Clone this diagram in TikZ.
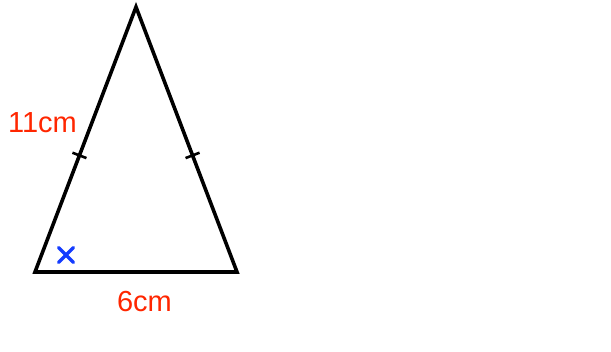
\documentclass[tikz,border=0pt]{standalone}
\usepackage{fontspec}
\setmainfont{Liberation Sans}
\usetikzlibrary{calc}
\definecolor{lblred}{RGB}{255,38,0}
\definecolor{xblue}{RGB}{20,60,255}
\begin{document}
\begin{tikzpicture}[x=1pt,y=-1pt,
  side/.style={line width=3.6pt,line join=miter},
  tickmark/.style={line width=2.6pt},
  lbl/.style={text=lblred,font=\fontsize{29}{29}\selectfont,inner sep=0pt}]
\useasboundingbox (0,0) rectangle (611,352);
\coordinate (A) at (136,7);
\coordinate (B) at (35,272);
\coordinate (C) at (237,272);
\draw[side] (A) -- (B) -- (C) -- cycle;
% ticks
\path (B) -- (A) coordinate[pos=0.44] (tl);
\path (C) -- (A) coordinate[pos=0.44] (tr);
\draw[tickmark] ($(tl)+(-7,-2.7)$) -- ($(tl)+(7,2.7)$);
\draw[tickmark] ($(tr)+(-7,2.7)$) -- ($(tr)+(7,-2.7)$);
\node[lbl] (l11) at (42.5,123) {11cm};
\node[lbl] (l6) at (144.5,302) {6cm};
\coordinate (X) at (66,255);
\draw[xblue,line width=3.2pt,line cap=round] ($(X)+(-7.5,-7.5)$) -- ($(X)+(7.5,7.5)$) ($(X)+(-7.5,7.5)$) -- ($(X)+(7.5,-7.5)$);
\end{tikzpicture}
\end{document}
